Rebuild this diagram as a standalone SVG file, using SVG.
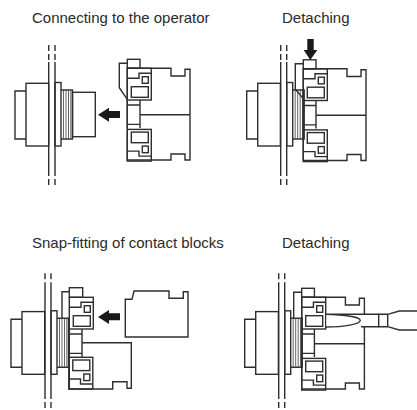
<svg xmlns="http://www.w3.org/2000/svg" width="417" height="410" viewBox="0 0 417 410">
<style>
.l{fill:none;stroke:#2e2e2e;stroke-width:1.4}
.h{fill:none;stroke:#555;stroke-width:.9}
.t{font-family:"Liberation Sans",Arial,sans-serif;font-size:15px;fill:#2a2a2a}
.a{fill:#1a1a1a}
.d{stroke-dasharray:6 3}
</style>
<defs>
<g id="operator">
<path class="l" d="M26 91H15V139H26"/>
<rect class="l" x="26" y="83.3" width="22.7" height="62.7"/>
<rect class="l" x="55" y="82.5" width="6" height="63.5"/>
<path class="l" d="M61 90H72.5V139H61"/>
<path class="h" d="M63.5 90V139M66 90V139M68.5 90V139M70.8 90V139"/>
</g>
<g id="mod" class="l">
<rect x="127.3" y="68.3" width="24" height="31.7"/>
<path d="M127.3 78.3H139V73.3H151.3"/>
<rect x="142.3" y="76.7" width="6" height="6.6"/>
<rect x="131.3" y="86.7" width="17" height="10.6"/>
</g>
<g id="mid" class="l">
<path d="M127.3 100V128M140 100V128M127.3 105H140M127.3 124.4H140"/>
</g>
<g id="block">
<rect class="l" x="127.3" y="59.3" width="12.7" height="9"/>
<path class="l" d="M127.3 68.3H171V76H185V69.3H190V160H185V154H171V160H127.3Z"/>
<path class="l" d="M140 114.7H190"/>
<use href="#mod"/>
<use href="#mod" transform="matrix(1 0 0 -1 0 229.4)"/>
<use href="#mid"/>
</g>
<path id="arrowL" class="a" d="M98 114.7L109 107.7V111H120V118H109V121.7Z"/>
</defs>

<g id="labels">
<text class="t" x="32" y="23">Connecting to the operator</text>
<text class="t" x="282" y="23">Detaching</text>
<text class="t" x="32" y="247.5">Snap-fitting of contact blocks</text>
<text class="t" x="282" y="247.5">Detaching</text>
</g>

<g id="panel1">
<path class="l" d="M48.7 62V170M55 62V170"/>
<path class="l d" d="M48.7 45V62M55 45V62M48.7 170V185M55 170V185"/>
<use href="#operator"/>
<rect class="l" x="72.5" y="92.3" width="22.8" height="44.4"/>
<use href="#arrowL"/>
<path class="l" d="M127.3 63.3H119.3V87.7L127.3 99.3"/>
<use href="#block"/>
</g>

<g id="panel2">
<path class="l" d="M280.7 62V170M286.7 62V170"/>
<path class="l d" d="M280.7 45V62M286.7 45V62M280.7 170V185M286.7 170V185"/>
<use href="#operator" transform="translate(231.7 0)"/>
<path class="l" d="M303.3 63.7H295.3V89.3L303.3 98.6"/>
<use href="#block" transform="translate(176 0.5)"/>
<path class="a" d="M307.3 39H313.7V50H317.3L310.3 60L303.7 50H307.3Z"/>
</g>

<g id="panel3">
<path class="l" d="M45 288V393M51 288V393"/>
<path class="l d" d="M45 273.3V288M51 273.3V288M45 393V410M51 393V410"/>
<use href="#operator" transform="translate(-4 228.3)"/>
<path class="l" d="M69.3 291.7H62V318"/>
<rect class="l" x="69.3" y="287.7" width="13.4" height="9.6"/>
<use href="#mod" transform="translate(-58 229)"/>
<use href="#mod" transform="matrix(1 0 0 -1 -58.5 457.3)"/>
<use href="#mid" transform="translate(-58 229)"/>
<path class="l" d="M82 342.7H131.3V388.3H127V381.7H112.7V389H69.3V329"/>
<use href="#arrowL" transform="translate(0 202.3)"/>
<path class="l" d="M125.3 299.3H132L134 291H169V298.3H183.3V291.7H188V337H125.3Z"/>
</g>

<g id="panel4">
<path class="l" d="M278.7 288V393M284.7 288V393"/>
<path class="l d" d="M278.7 273.3V288M284.7 273.3V288M278.7 393V410M284.7 393V410"/>
<use href="#operator" transform="translate(229.7 228.3)"/>
<path class="l" d="M301.7 292.3H293.7V318.3"/>
<use href="#block" transform="translate(174.4 229)"/>
<rect x="326.5" y="315" width="52" height="11" fill="#fff"/>
<path class="l" d="M325.7 314.3H378.7M325.7 327C345 327 360 324 360.3 320.5C360 317 345 314.8 325.7 314.3M361 326.7H378.7"/>
<path class="l" d="M378.7 314.3H387.7V326.7H378.7ZM387.7 314.3L399.3 311H417M387.7 326.7L399.3 330H417"/>
</g>
</svg>
